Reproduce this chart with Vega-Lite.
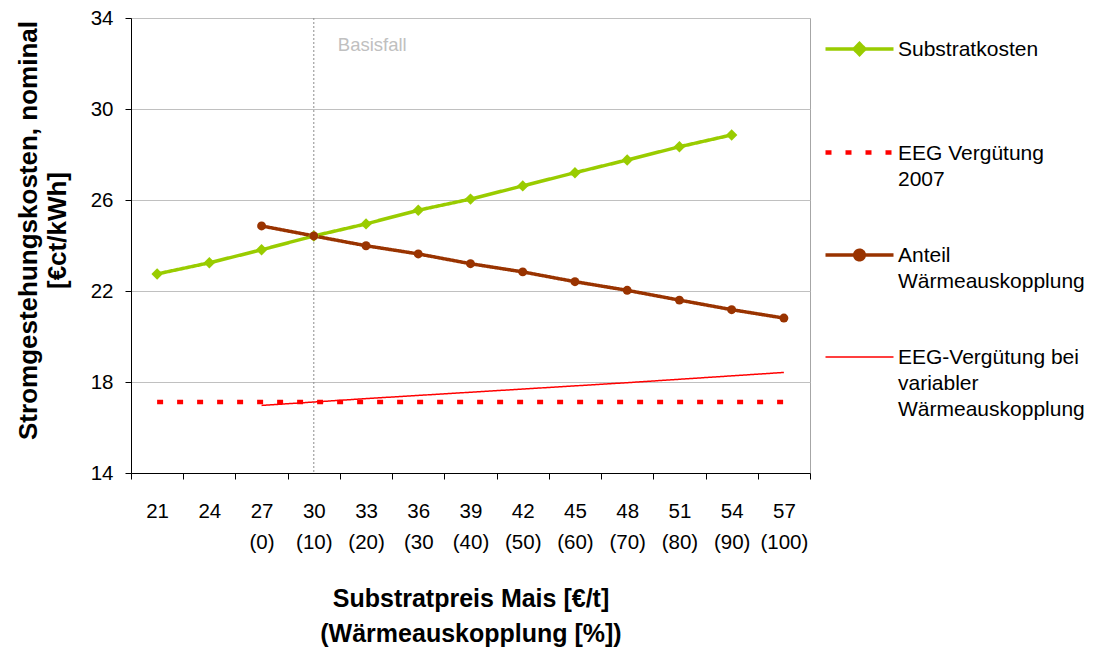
{
  "$schema": "https://vega.github.io/schema/vega-lite/v6.json",
  "width": 679,
  "height": 455,
  "autosize": {"type": "none"},
  "padding": {"left": 131, "top": 18, "right": 284, "bottom": 176},
  "background": "white",
  "config": {
    "font": "Liberation Sans",
    "view": {"stroke": "#a6a6a6", "strokeWidth": 1}
  },
  "data": {
    "values": [
      {"reihe": "Substratkosten", "preis": "21", "wert": 22.75},
      {"reihe": "Substratkosten", "preis": "24", "wert": 23.24},
      {"reihe": "Substratkosten", "preis": "27|(0)", "wert": 23.81},
      {"reihe": "Substratkosten", "preis": "30|(10)", "wert": 24.42},
      {"reihe": "Substratkosten", "preis": "33|(20)", "wert": 24.95},
      {"reihe": "Substratkosten", "preis": "36|(30", "wert": 25.55},
      {"reihe": "Substratkosten", "preis": "39|(40)", "wert": 26.04},
      {"reihe": "Substratkosten", "preis": "42|(50)", "wert": 26.62},
      {"reihe": "Substratkosten", "preis": "45|(60)", "wert": 27.2},
      {"reihe": "Substratkosten", "preis": "48|(70)", "wert": 27.76},
      {"reihe": "Substratkosten", "preis": "51|(80)", "wert": 28.34},
      {"reihe": "Substratkosten", "preis": "54|(90)", "wert": 28.86},

      {"reihe": "EEG Vergütung|2007", "preis": "21", "wert": 17.12},
      {"reihe": "EEG Vergütung|2007", "preis": "24", "wert": 17.12},
      {"reihe": "EEG Vergütung|2007", "preis": "27|(0)", "wert": 17.12},
      {"reihe": "EEG Vergütung|2007", "preis": "30|(10)", "wert": 17.12},
      {"reihe": "EEG Vergütung|2007", "preis": "33|(20)", "wert": 17.12},
      {"reihe": "EEG Vergütung|2007", "preis": "36|(30", "wert": 17.12},
      {"reihe": "EEG Vergütung|2007", "preis": "39|(40)", "wert": 17.12},
      {"reihe": "EEG Vergütung|2007", "preis": "42|(50)", "wert": 17.12},
      {"reihe": "EEG Vergütung|2007", "preis": "45|(60)", "wert": 17.12},
      {"reihe": "EEG Vergütung|2007", "preis": "48|(70)", "wert": 17.12},
      {"reihe": "EEG Vergütung|2007", "preis": "51|(80)", "wert": 17.12},
      {"reihe": "EEG Vergütung|2007", "preis": "54|(90)", "wert": 17.12},
      {"reihe": "EEG Vergütung|2007", "preis": "57|(100)", "wert": 17.12},

      {"reihe": "Anteil|Wärmeauskopplung", "preis": "27|(0)", "wert": 24.86},
      {"reihe": "Anteil|Wärmeauskopplung", "preis": "30|(10)", "wert": 24.42},
      {"reihe": "Anteil|Wärmeauskopplung", "preis": "33|(20)", "wert": 23.99},
      {"reihe": "Anteil|Wärmeauskopplung", "preis": "36|(30", "wert": 23.63},
      {"reihe": "Anteil|Wärmeauskopplung", "preis": "39|(40)", "wert": 23.2},
      {"reihe": "Anteil|Wärmeauskopplung", "preis": "42|(50)", "wert": 22.84},
      {"reihe": "Anteil|Wärmeauskopplung", "preis": "45|(60)", "wert": 22.41},
      {"reihe": "Anteil|Wärmeauskopplung", "preis": "48|(70)", "wert": 22.03},
      {"reihe": "Anteil|Wärmeauskopplung", "preis": "51|(80)", "wert": 21.6},
      {"reihe": "Anteil|Wärmeauskopplung", "preis": "54|(90)", "wert": 21.18},
      {"reihe": "Anteil|Wärmeauskopplung", "preis": "57|(100)", "wert": 20.81},

      {"reihe": "EEG-Vergütung bei|variabler|Wärmeauskopplung", "preis": "27|(0)", "wert": 16.97},
      {"reihe": "EEG-Vergütung bei|variabler|Wärmeauskopplung", "preis": "30|(10)", "wert": 17.12},
      {"reihe": "EEG-Vergütung bei|variabler|Wärmeauskopplung", "preis": "33|(20)", "wert": 17.27},
      {"reihe": "EEG-Vergütung bei|variabler|Wärmeauskopplung", "preis": "36|(30", "wert": 17.41},
      {"reihe": "EEG-Vergütung bei|variabler|Wärmeauskopplung", "preis": "39|(40)", "wert": 17.55},
      {"reihe": "EEG-Vergütung bei|variabler|Wärmeauskopplung", "preis": "42|(50)", "wert": 17.69},
      {"reihe": "EEG-Vergütung bei|variabler|Wärmeauskopplung", "preis": "45|(60)", "wert": 17.83},
      {"reihe": "EEG-Vergütung bei|variabler|Wärmeauskopplung", "preis": "48|(70)", "wert": 17.97},
      {"reihe": "EEG-Vergütung bei|variabler|Wärmeauskopplung", "preis": "51|(80)", "wert": 18.12},
      {"reihe": "EEG-Vergütung bei|variabler|Wärmeauskopplung", "preis": "54|(90)", "wert": 18.27},
      {"reihe": "EEG-Vergütung bei|variabler|Wärmeauskopplung", "preis": "57|(100)", "wert": 18.42}
    ]
  },
  "layer": [
    {
      "data": {"values": [{"fall": "Basisfall"}]},
      "mark": {"type": "rule", "color": "#8c8c8c", "strokeDash": [2, 2], "strokeWidth": 1},
      "encoding": {
        "x": {"datum": "30|(10)", "type": "nominal"}
      }
    },
    {
      "data": {"values": [{"fall": "Basisfall"}]},
      "mark": {"type": "text", "align": "left", "baseline": "middle", "dx": 24, "fontSize": 18.5, "color": "#c0c0c0"},
      "encoding": {
        "x": {"datum": "30|(10)", "type": "nominal"},
        "y": {"datum": 32.8, "type": "quantitative"},
        "text": {"field": "fall"}
      }
    },
    {
      "mark": {"type": "line", "strokeCap": "butt"},
      "encoding": {
        "x": {
          "field": "preis",
          "type": "nominal",
          "sort": null,
          "scale": {
            "type": "band",
            "paddingInner": 0,
            "paddingOuter": 0,
            "domain": ["21", "24", "27|(0)", "30|(10)", "33|(20)", "36|(30", "39|(40)", "42|(50)", "45|(60)", "48|(70)", "51|(80)", "54|(90)", "57|(100)"]
          },
          "axis": {
            "title": ["Substratpreis Mais [€/t]", "(Wärmeauskopplung [%])"],
            "labelExpr": "isValid(datum.value) ? split(datum.value, '|') : ''",
            "labelAngle": 0,
            "labelAlign": "center",
            "labelFontSize": 20.5,
            "labelLineHeight": 31,
            "labelPadding": 32,
            "labelOverlap": false,
            "labelColor": "#000",
            "tickBand": "extent",
            "tickSize": 6,
            "tickColor": "#000",
            "domainColor": "#000",
            "grid": false,
            "titleFontSize": 25,
            "titleFontWeight": "bold",
            "titleLineHeight": 35,
            "titlePadding": 34,
            "titleColor": "#000"
          }
        },
        "y": {
          "field": "wert",
          "type": "quantitative",
          "scale": {"domain": [14, 34], "nice": false, "zero": false},
          "axis": {
            "title": ["Stromgestehungskosten, nominal", "[€ct/kWh]"],
            "values": [14, 18, 22, 26, 30, 34],
            "grid": true,
            "gridColor": "#c0c0c0",
            "tickSize": 6,
            "tickColor": "#000",
            "domainColor": "#000",
            "labelFontSize": 20.5,
            "labelPadding": 12,
            "labelColor": "#000",
            "titleFontSize": 26,
            "titleFontWeight": "bold",
            "titleLineHeight": 29,
            "titlePadding": 20,
            "titleY": 212,
            "titleColor": "#000"
          }
        },
        "color": {
          "field": "reihe",
          "type": "nominal",
          "scale": {
            "domain": ["Substratkosten", "EEG Vergütung|2007", "Anteil|Wärmeauskopplung", "EEG-Vergütung bei|variabler|Wärmeauskopplung"],
            "range": ["#99cc00", "#ff0000", "#993300", "#ff0000"]
          },
          "legend": {
            "orient": "none",
            "legendX": 692,
            "legendY": -5,
            "title": null,
            "padding": 0,
            "symbolSize": 4624,
            "labelOffset": 2,
            "labelFontSize": 21,
            "labelColor": "#000",
            "labelLimit": 400,
            "labelExpr": "split(datum.value, '|')",
            "gridAlign": "all",
            "rowPadding": 5,
            "encode": {
              "symbols": {
                "update": {
                  "shape": {"signal": "datum.value === 'Substratkosten' ? 'M-1,0H1M0,-0.16L0.16,0L0,0.16L-0.16,0Z' : datum.value === 'Anteil|Wärmeauskopplung' ? 'M-1,0H1M-0.14,0A0.14,0.14 0 1,0 0.14,0A0.14,0.14 0 1,0 -0.14,0Z' : 'M-1,0H1'"},
                  "strokeDash": {"signal": "datum.value === 'EEG Vergütung|2007' ? [7, 13] : [1, 0]"},
                  "strokeWidth": {"signal": "datum.value === 'EEG Vergütung|2007' ? 4.5 : datum.value === 'EEG-Vergütung bei|variabler|Wärmeauskopplung' ? 1.5 : 3"},
                  "fill": {"signal": "scale('color', datum.value)"},
                  "stroke": {"signal": "scale('color', datum.value)"},
                  "opacity": {"value": 1}
                }
              },
              "labels": {
                "update": {
                  "baseline": {"value": "top"},
                  "dy": {"value": -10},
                  "lineHeight": {"value": 26}
                }
              }
            }
          }
        },
        "strokeDash": {
          "field": "reihe",
          "type": "nominal",
          "scale": {
            "type": "ordinal",
            "domain": ["Substratkosten", "EEG Vergütung|2007", "Anteil|Wärmeauskopplung", "EEG-Vergütung bei|variabler|Wärmeauskopplung"],
            "range": [[1, 0], [6, 14], [1, 0], [1, 0]]
          },
          "legend": null
        },
        "strokeWidth": {
          "field": "reihe",
          "type": "nominal",
          "scale": {
            "type": "ordinal",
            "domain": ["Substratkosten", "EEG Vergütung|2007", "Anteil|Wärmeauskopplung", "EEG-Vergütung bei|variabler|Wärmeauskopplung"],
            "range": [3.5, 4.5, 3.5, 1.5]
          },
          "legend": null
        }
      }
    },
    {
      "transform": [{"filter": "datum.reihe === 'Substratkosten' || datum.reihe === 'Anteil|Wärmeauskopplung'"}],
      "mark": {"type": "point", "filled": true, "opacity": 1},
      "encoding": {
        "x": {"field": "preis", "type": "nominal", "sort": null},
        "y": {"field": "wert", "type": "quantitative"},
        "color": {"field": "reihe", "type": "nominal"},
        "shape": {
          "field": "reihe",
          "type": "nominal",
          "scale": {"domain": ["Substratkosten", "Anteil|Wärmeauskopplung"], "range": ["diamond", "circle"]},
          "legend": null
        },
        "size": {
          "field": "reihe",
          "type": "nominal",
          "scale": {"type": "ordinal", "domain": ["Substratkosten", "Anteil|Wärmeauskopplung"], "range": [130, 80]},
          "legend": null
        }
      }
    }
  ]
}
